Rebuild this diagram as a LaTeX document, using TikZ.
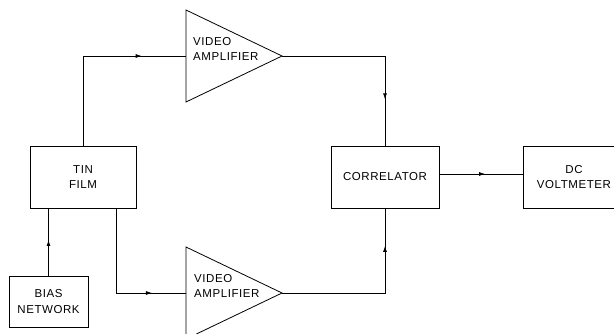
\documentclass[tikz,border=0pt]{standalone}
\usepackage{fontspec}
\setmainfont{Liberation Sans}[LetterSpace=5]
\usetikzlibrary{arrows.meta,decorations.markings}
\tikzset{
  blk/.style={draw, line width=0.8pt, inner sep=0pt, align=center, font=\fontsize{11.5}{15.5}\selectfont},
  lbl/.style={inner sep=0pt, align=left, anchor=west, font=\fontsize{11.5}{15.5}\selectfont},
  wire/.style={line width=0.8pt},
  amp/.style={draw, line width=0.8pt, line join=miter},
  midarrow/.style={postaction={decorate}, decoration={markings, mark=at position #1 with {\arrow{Latex[length=6pt,width=4pt]}}}}
}
\begin{document}
\begin{tikzpicture}[x=1pt,y=-1pt]
\useasboundingbox (0,0) rectangle (614,334);
\clip (0,0) rectangle (614,334);
% boxes
\node[blk, minimum width=106pt, minimum height=62pt] (tin) at (83,177) {TIN\\FILM};
\node[blk, minimum width=79pt, minimum height=51pt] (bias) at (48.5,301.5) {BIAS\\NETWORK};
\node[blk, minimum width=108pt, minimum height=62pt] (corr) at (385,177) {CORRELATOR};
\node[blk, minimum width=93pt, minimum height=62pt, text width=93pt] (volt) at (569.5,177) {\hspace*{9pt}DC\\\hspace*{9pt}VOLTMETER};
% amplifiers
\draw[amp] (186,10) -- (282,56) -- (186,102) -- cycle;
\draw[amp] (186,247) -- (282,293) -- (186,339) -- cycle;
\coordinate (a1in) at (186,56);
\coordinate (a1out) at (282,56);
\coordinate (a2in) at (186,293);
\coordinate (a2out) at (282,293);
\node[lbl] (a1lbl) at (193,49) {VIDEO\\AMPLIFIER};
\node[lbl] (a2lbl) at (194,286) {VIDEO\\AMPLIFIER};
% connectors
\draw[wire, midarrow=0.77] (tin.north -| 83,0) |- (a1in);
\draw[wire, midarrow=0.76] (a1out) -| (corr.north);
\draw[wire, midarrow=0.78] (tin.south -| 116,0) |- (a2in);
\draw[wire, midarrow=0.80] (a2out) -| (corr.south);
\draw[wire, midarrow=0.53] (bias.north) -- (bias.north |- tin.south);
\draw[wire, midarrow=0.55] (corr.east |- 0,174) -- (volt.west |- 0,174);
\end{tikzpicture}
\end{document}
